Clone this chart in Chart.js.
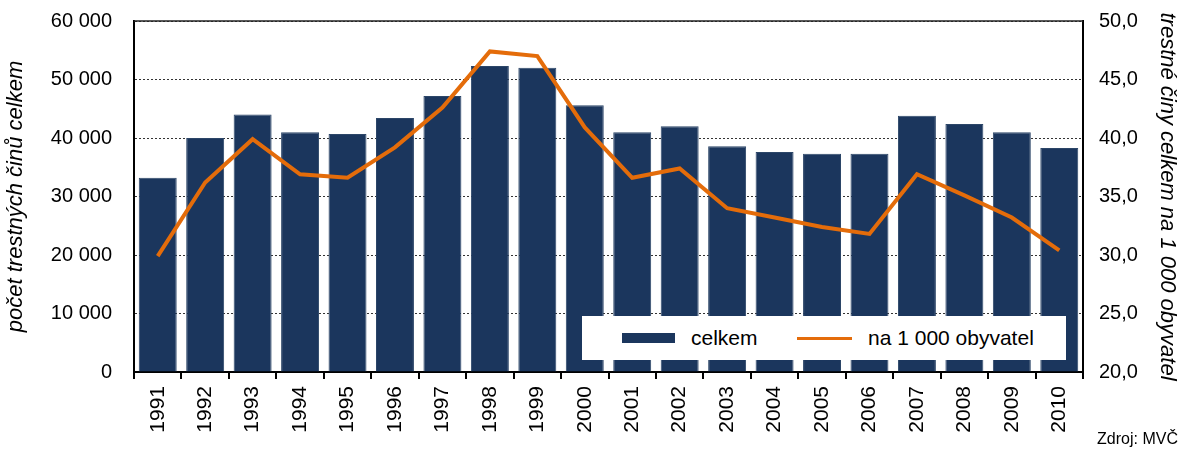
<!DOCTYPE html>
<html>
<head>
<meta charset="utf-8">
<script src="https://cdn.jsdelivr.net/npm/chart.js@4"></script>
<style>
  body { margin: 0; background: #fff; font-family: 'Liberation Sans', Arial, sans-serif; }
  #wrap { position: relative; width: 1181px; height: 453px; }
  #legend { position: absolute; left: 582px; top: 316px; width: 484px; height: 44px; background: #fff; }
  #legend .sw { position: absolute; }
  #legend span { position: absolute; top: 10px; font-size: 21px; color: #000; line-height: 24px; }
  #source { position: absolute; right: 3px; top: 430px; font-size: 16px; color: #000; }
</style>
</head>
<body>
<div id="wrap">
  <canvas id="chart"></canvas>
  <div id="legend">
    <div class="sw" style="left:40px;top:17px;width:53px;height:10px;background:#1b365d"></div>
    <span style="left:109px">celkem</span>
    <div class="sw" style="left:215px;top:21px;width:55px;height:3px;background:#e46c0a"></div>
    <span style="left:286px">na 1 000 obyvatel</span>
  </div>
  <div id="source">Zdroj: MVČ</div>
</div>
<script>
// -- DATA -- //
const years = ["1991","1992","1993","1994","1995","1996","1997","1998","1999","2000",
               "2001","2002","2003","2004","2005","2006","2007","2008","2009","2010"];
const celkem = [33200, 40000, 44000, 41000, 40700, 43400, 47200, 52300, 52000, 45600,
                41000, 42000, 38600, 37600, 37300, 37300, 43800, 42400, 41000, 38300];
const na_1000 = [29.9, 36.2, 39.9, 36.9, 36.6, 39.2, 42.6, 47.4, 47.0, 40.9,
                 36.6, 37.4, 34.0, 33.2, 32.4, 31.8, 36.9, 35.1, 33.2, 30.4];

const font_main = { family: "'Liberation Sans', Arial, sans-serif", size: 20 };
const font_x = { family: "'Liberation Sans', Arial, sans-serif", size: 21 };
const font_title = { family: "'Liberation Sans', Arial, sans-serif", size: 22, style: 'italic' };

// top edge of the plot frame
const frame_top = {
    id: 'frame_top',
    afterDatasetsDraw(chart) {
        const a = chart.chartArea;
        const ctx = chart.ctx;
        ctx.save();
        ctx.strokeStyle = '#222';
        ctx.lineWidth = 1.5;
        ctx.beginPath();
        ctx.moveTo(a.left, a.top);
        ctx.lineTo(a.right, a.top);
        ctx.stroke();
        ctx.restore();
    }
};

const ctx = document.getElementById("chart").getContext("2d");
new Chart(ctx, {
    data: {
        labels: years,
        datasets: [
            {
                type: 'line',
                label: 'na 1 000 obyvatel',
                data: na_1000,
                yAxisID: 'y1',
                borderColor: '#e46c0a',
                borderWidth: 4,
                pointRadius: 0,
                tension: 0,
                order: 0
            },
            {
                type: 'bar',
                label: 'celkem',
                data: celkem,
                yAxisID: 'y',
                backgroundColor: '#1b365d',
                borderColor: '#2c4668',
                borderWidth: 1,
                barPercentage: 0.8,
                categoryPercentage: 1.0,
                order: 1
            }
        ]
    },
    options: {
        responsive: true,
        maintainAspectRatio: false,
        animation: false,
        layout: { padding: { top: 21, left: 0, right: 0, bottom: 0 } },
        plugins: {
            legend: { display: false },
            tooltip: { enabled: false }
        },
        scales: {
            x: {
                grid: { offset: true, drawOnChartArea: false, color: '#000', lineWidth: 2, tickLength: 7 },
                border: { color: '#000', width: 2 },
                ticks: { color: '#000', font: font_x, maxRotation: 90, minRotation: 90, padding: 7, autoSkip: false },
                afterFit: s => { s.height = 81; }
            },
            y: {
                position: 'left',
                min: 0, max: 60000,
                ticks: {
                    stepSize: 10000, color: '#000', font: font_main, padding: 0,
                    callback: v => v === 0 ? '0' : String(v).replace(/\B(?=(\d{3})+(?!\d))/g, ' ')
                },
                grid: { color: '#333', lineWidth: 1, tickLength: 22, tickColor: 'rgba(0,0,0,0)' },
                border: { color: '#000', width: 2, dash: [2, 2] },
                title: { display: true, text: 'počet trestných činů celkem', color: '#000', font: font_title, padding: { top: 3, bottom: 0 } },
                afterFit: s => { s.width = 134; }
            },
            y1: {
                position: 'right',
                min: 20, max: 50,
                ticks: {
                    stepSize: 5, color: '#000', font: font_main, padding: 0,
                    callback: v => v.toFixed(1).replace('.', ',')
                },
                grid: { drawOnChartArea: false, tickLength: 16, tickColor: 'rgba(0,0,0,0)' },
                border: { display: true, color: '#000', width: 2 },
                title: { display: true, text: 'trestné činy celkem na 1 000 obyvatel', color: '#000', font: font_title, padding: { top: 1, bottom: 0 } },
                afterFit: s => { s.width = 98; }
            }
        }
    },
    plugins: [frame_top]
});
</script>
</body>
</html>
